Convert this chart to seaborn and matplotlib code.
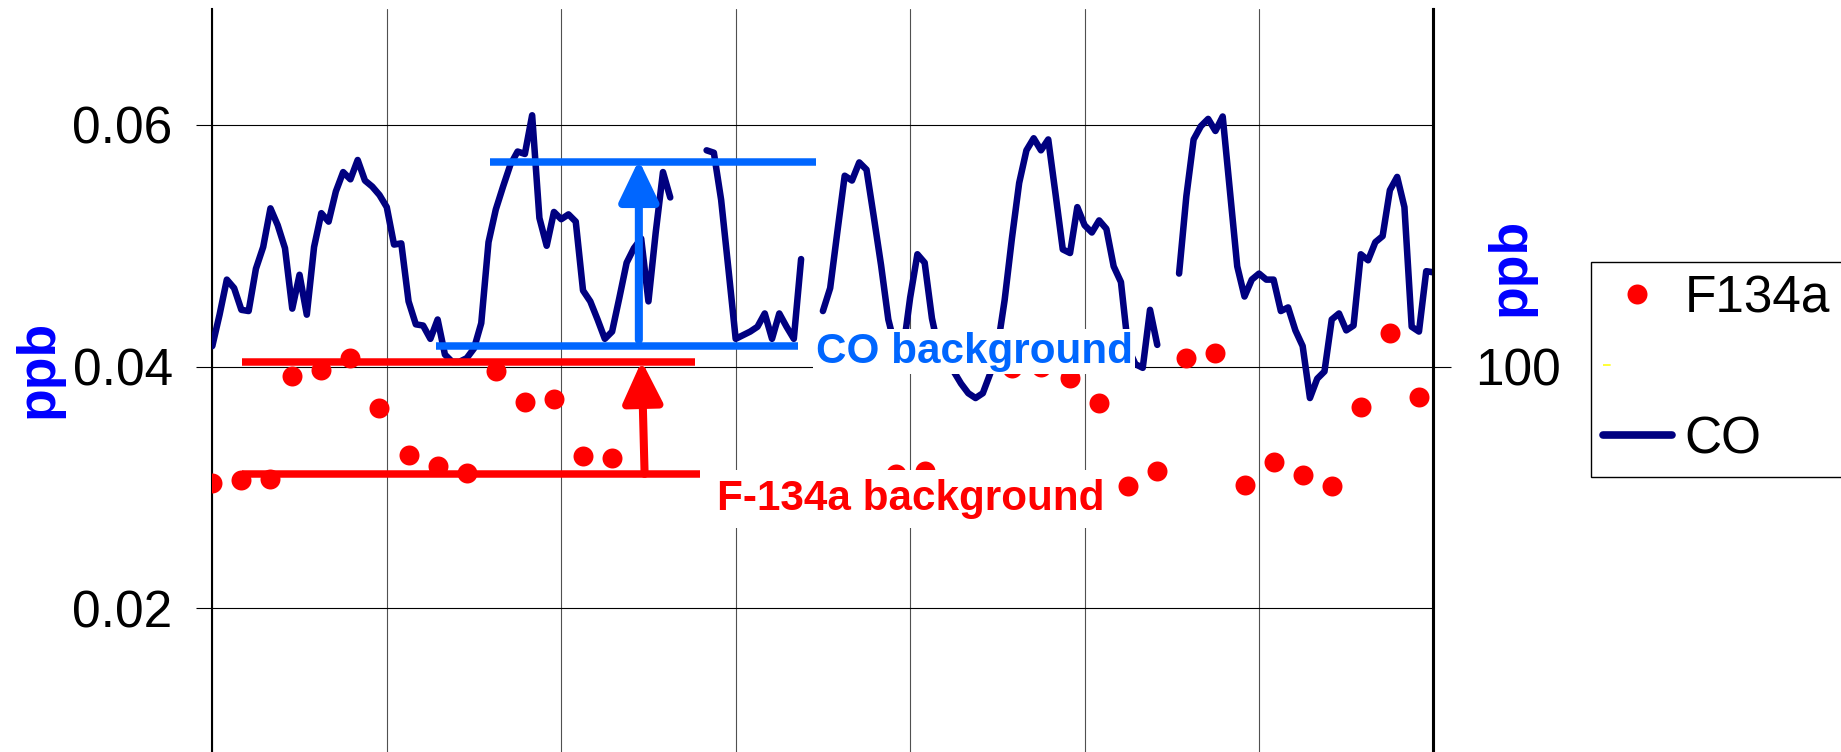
import numpy as np
import pandas as pd
import matplotlib
matplotlib.use("Agg")
import matplotlib.pyplot as plt
import seaborn as sns
from matplotlib.lines import Line2D

# ---------------- data ----------------
nan = np.nan
co_hours = np.arange(169)  # hourly, 7 days
co_ppb = [
    0.0417, 0.0443, 0.0472, 0.0465, 0.0447, 0.0446, 0.0481, 0.0499, 0.0531, 0.0517,
    0.0498, 0.0448, 0.0476, 0.0443, 0.0499, 0.0527, 0.0520, 0.0545, 0.0561, 0.0555,
    0.0571, 0.0554, 0.0549, 0.0542, 0.0532, 0.0501, 0.0502, 0.0454, 0.0435, 0.0434,
    0.0423, 0.0439, 0.0410, 0.0404, 0.0404, 0.0407, 0.0415, 0.0436, 0.0503, 0.0530,
    0.0549, 0.0567, 0.0578, 0.0576, 0.0608, 0.0523, 0.0500, 0.0528, 0.0522, 0.0526,
    0.0520, 0.0463, 0.0454, 0.0439, 0.0423, 0.0429, 0.0457, 0.0486, 0.0498, 0.0506,
    0.0454, 0.0511, 0.0561, 0.0540, nan, nan, nan, nan, 0.0579, 0.0577,
    0.0538, 0.0481, 0.0423, 0.0426, 0.0429, 0.0433, 0.0444, 0.0423, 0.0444, 0.0433,
    0.0423, 0.0489, nan, nan, 0.0446, 0.0465, 0.0512, 0.0558, 0.0554, 0.0569,
    0.0563, 0.0524, 0.0484, 0.0439, 0.0415, 0.0412, 0.0457, 0.0493, 0.0486, 0.0440,
    0.0412, 0.0405, 0.0396, 0.0386, 0.0378, 0.0374, 0.0378, 0.0394, 0.0415, 0.0455,
    0.0506, 0.0552, 0.0579, 0.0589, 0.0579, 0.0588, 0.0543, 0.0497, 0.0494, 0.0532,
    0.0517, 0.0511, 0.0521, 0.0514, 0.0483, 0.0470, 0.0415, 0.0402, 0.0399, 0.0447,
    0.0418, nan, nan, 0.0477, 0.0541, 0.0588, 0.0599, 0.0605, 0.0595, 0.0607,
    0.0545, 0.0483, 0.0458, 0.0472, 0.0477, 0.0472, 0.0472, 0.0446, 0.0449, 0.0430,
    0.0417, 0.0374, 0.0390, 0.0396, 0.0439, 0.0444, 0.0430, 0.0434, 0.0493, 0.0488,
    0.0503, 0.0508, 0.0546, 0.0557, 0.0532, 0.0433, 0.0429, 0.0479, 0.0478,
]

f134a_hours = [0, 4, 8, 11, 15, 19, 23, 27, 31, 35, 39, 43, 47, 51, 55,
               94, 98, 110, 114, 118, 122, 126, 130, 134, 138, 142, 146,
               150, 154, 158, 162, 166]
f134a_ppb = [0.0304, 0.0306, 0.0307, 0.0392, 0.0397, 0.0407, 0.0366, 0.0327,
             0.0318, 0.0312, 0.0396, 0.0371, 0.0373, 0.0326, 0.0324,
             0.0311, 0.0314, 0.0399, 0.0400, 0.0391, 0.0370, 0.0301, 0.0314,
             0.0407, 0.0411, 0.0302, 0.0321, 0.0310, 0.0301, 0.0367, 0.0428,
             0.0375]

left_ticks = [0.02, 0.04, 0.06]
left_ticklabels = ["0.02", "0.04", "0.06"]
right_ticks = [100]
right_ticklabels = ["100"]
legend_labels = ["F134a", " ", "CO"]

# ---------------- style ----------------
sns.set_style("white")
plt.rcParams["font.family"] = ["Liberation Sans", "DejaVu Sans"]
plt.rcParams["text.color"] = "black"

W, H, DPI = 1841, 752, 100
fig = plt.figure(figsize=(W / DPI, H / DPI), dpi=DPI)
ax = fig.add_axes([212.3 / W, 1 - 850 / H, 1221.2 / W, 840.7 / H])

YTOP = 0.06957
NAVY = "#000080"
BLUE = "#0066FF"
RED = "#FF0000"

co_df = pd.DataFrame({"day": co_hours / 24.0, "co": co_ppb})
co_df["seg"] = co_df["co"].isna().cumsum()
co_df = co_df.dropna()

f_df = pd.DataFrame({"day": np.array(f134a_hours) / 24.0, "f134a": f134a_ppb})

sns.lineplot(data=co_df, x="day", y="co", units="seg", estimator=None,
             color=NAVY, linewidth=4.7, ax=ax, legend=False, zorder=3)
for ln in ax.lines:
    ln.set_solid_joinstyle("round")
sns.scatterplot(data=f_df, x="day", y="f134a", color=RED, s=207,
                linewidth=0, ax=ax, legend=False, zorder=4)

ax.set_xlim(0, 7)
ax.set_ylim(0, YTOP)
ax.set_xticks(range(8))
ax.set_yticks(left_ticks)
ax.set_yticklabels(left_ticklabels)
ax.set_xlabel("")
ax.set_axisbelow(True)
ax.grid(axis="x", color="#505050", linewidth=0.8)
ax.grid(axis="y", color="black", linewidth=0.8)
ax.tick_params(axis="x", length=0, labelbottom=False)
ax.tick_params(axis="y", left=True, direction="out", length=11.5, width=0.8,
               labelsize=37, pad=17, colors="black")
for s in ["top", "bottom"]:
    ax.spines[s].set_visible(False)
for s in ["left", "right"]:
    ax.spines[s].set_color("black")
    ax.spines[s].set_linewidth(1.5)

ax.set_ylabel("ppb", fontsize=38.5, fontweight="bold", color="#0000FF")
ax.yaxis.set_label_coords(-0.1427, 0.5721)
ax.yaxis.label.set_verticalalignment("center")

# ---------------- annotations ----------------
line_kw = dict(linewidth=5.4, solid_capstyle="butt", zorder=5)
ax.plot([0.168, 2.766], [0.0404, 0.0404], color=RED, **line_kw)
ax.plot([0.168, 2.795], [0.03112, 0.03112], color=RED, **line_kw)
ax.plot([1.591, 3.458], [0.05694, 0.05694], color=BLUE, **line_kw)
ax.plot([1.282, 3.356], [0.04171, 0.04171], color=BLUE, **line_kw)

ax.annotate("", xy=(2.445, 0.05710), xytext=(2.445, 0.04221),
            arrowprops=dict(arrowstyle="-|>,head_length=2.5,head_width=1.2",
                            mutation_scale=10, lw=5.8, color=BLUE,
                            shrinkA=0, shrinkB=0), zorder=6)
ax.annotate("", xy=(2.461, 0.04047), xytext=(2.478, 0.03112),
            arrowprops=dict(arrowstyle="-|>,head_length=2.5,head_width=1.2",
                            mutation_scale=10, lw=5.8, color=RED,
                            shrinkA=0, shrinkB=0), zorder=6)

ax.text(3.46, 0.04031, "CO background", color=BLUE, fontsize=30.4,
        fontweight="bold", ha="left", va="baseline", zorder=7,
        bbox=dict(facecolor="white", edgecolor="none", boxstyle="square,pad=0.06"))
ax.text(2.894, 0.02814, "F-134a background", color=RED, fontsize=30.4,
        fontweight="bold", ha="left", va="baseline", zorder=7,
        bbox=dict(facecolor="white", edgecolor="none", boxstyle="square,pad=0.22"))

# ---------------- right axis ----------------
ax2 = ax.twinx()
ax2.set_ylim(0, YTOP * 2500)
ax2.set_yticks(right_ticks)
ax2.set_yticklabels(right_ticklabels)
ax2.tick_params(axis="y", right=True, direction="out", length=13, width=0.8,
                labelsize=37, pad=17, colors="black")
for s in ["top", "bottom", "left"]:
    ax2.spines[s].set_visible(False)
ax2.spines["right"].set_color("black")
ax2.spines["right"].set_linewidth(1.5)
ax2.grid(False)
ax2.set_ylabel("ppb", fontsize=38.5, fontweight="bold", color="#0000FF", rotation=90)
ax2.yaxis.set_label_coords(1.0627, 0.694)
ax2.yaxis.label.set_verticalalignment("center")

# ---------------- legend ----------------
handles = [
    Line2D([], [], marker="o", color=RED, markersize=14.4, linestyle="none",
           markeredgewidth=0),
    Line2D([], [], color="#FFFF00", linewidth=1.1, dashes=(5, 300)),
    Line2D([], [], color=NAVY, linewidth=5.5, solid_capstyle="round"),
]
leg = fig.legend(handles, legend_labels, loc="upper left",
                 bbox_to_anchor=(1590.7 / W, 1 - 261.7 / H, (1990 - 1590.7) / W, 0),
                 mode="expand", borderaxespad=0, borderpad=0.24,
                 labelspacing=0.42, handlelength=1.34, handletextpad=0.25,
                 fontsize=37, frameon=True, fancybox=False, framealpha=1,
                 edgecolor="black", labelcolor="black")
leg.get_frame().set_linewidth(1.0)

fig.savefig("out.png", dpi=DPI)
